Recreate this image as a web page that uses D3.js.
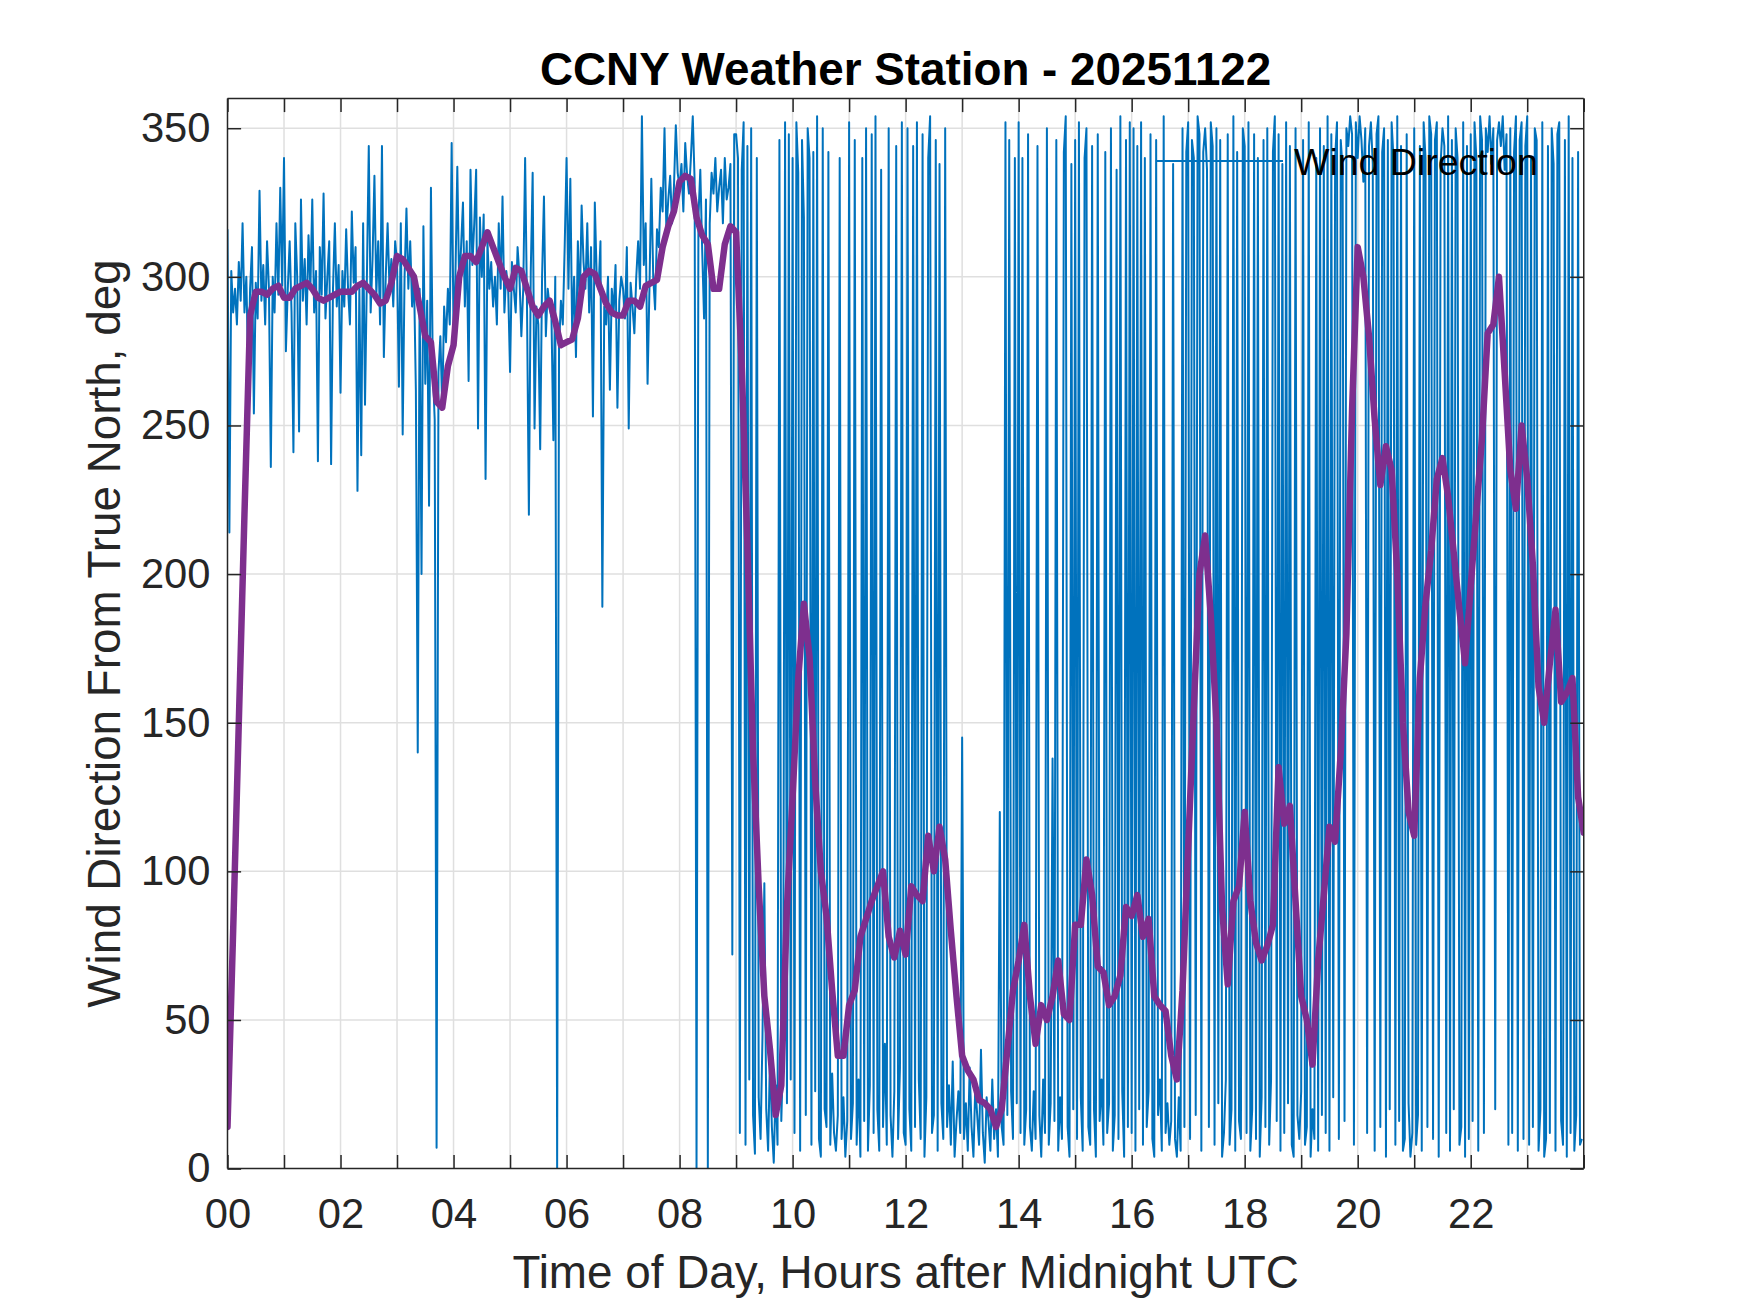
<!DOCTYPE html>
<html>
<head>
<meta charset="utf-8">
<script src="https://cdn.jsdelivr.net/npm/d3@7"></script>
<style>
  body { margin: 0; background: #fff; }
  text { font-family: "Liberation Sans", Arial, Helvetica, sans-serif; }
</style>
</head>
<body>
<script>
// wind direction, one value every 2 minutes, deg from true north
var dir00to04 = [
  316, 214, 302, 288, 296, 284, 305, 292, 318, 288, 300, 267, 296, 310, 254, 298, 286, 329, 292, 304, 284, 312, 296, 236, 300, 288, 318, 294, 330, 297,
  340, 275, 296, 312, 288, 241, 318, 300, 248, 326, 292, 306, 284, 314, 296, 326, 288, 302, 238, 310, 294, 328, 286, 300, 312, 237, 296, 318, 290, 304,
  261, 302, 290, 316, 296, 284, 322, 298, 310, 228, 296, 240, 318, 257, 300, 344, 288, 306, 334, 294, 312, 284, 344, 273, 300, 318, 296, 306, 290, 312,
  305, 263, 318, 247, 300, 323, 296, 312, 290, 300, 262, 140, 296, 200, 317, 264, 292, 223, 330, 268, 252, 7, 268, 280, 256, 290, 278, 296, 284, 345
];
var dir04to08 = [
  281, 300, 337, 296, 310, 325, 290, 312, 265, 336, 304, 318, 336, 249, 320, 300, 321, 232, 312, 296, 305, 290, 300, 284, 318, 296, 327, 288, 302, 296,
  268, 305, 296, 288, 310, 300, 280, 296, 340, 290, 220, 302, 335, 249, 290, 284, 242, 300, 327, 280, 296, 290, 286, 245, 300, 0, 276, 292, 284, 310,
  340, 296, 333, 280, 300, 273, 312, 290, 324, 305, 296, 318, 288, 310, 253, 325, 300, 296, 312, 189, 290, 284, 300, 262, 296, 288, 304, 256, 292, 300,
  296, 286, 310, 249, 298, 290, 281, 300, 312, 296, 354, 304, 318, 264, 296, 333, 300, 289, 316, 310, 330, 322, 350, 315, 326, 334, 318, 330, 351, 335
];
var dir08to12 = [
  330, 338, 322, 345, 334, 328, 340, 354, 332, 0, 320, 336, 309, 286, 326, 0, 318, 335, 328, 340, 322, 330, 336, 318, 340, 326, 330, 338, 72, 348,
  348, 340, 12, 336, 352, 8, 344, 30, 350, 18, 5, 340, 24, 10, 44, 96, 20, 6, 38, 14, 2, 28, 8, 346, 16, 40, 352, 22, 348, 30,
  340, 12, 352, 335, 6, 346, 320, 18, 350, 340, 8, 342, 26, 354, 10, 4, 350, 20, 14, 342, 8, 32, 12, 6, 18, 340, 10, 24, 4, 16,
  352, 10, 22, 346, 8, 30, 4, 340, 16, 350, 6, 28, 348, 12, 354, 20, 6, 336, 14, 42, 8, 350, 18, 4, 26, 344, 10, 34, 352, 12
];
var dir12to16 = [
  8, 350, 20, 6, 344, 14, 352, 30, 10, 348, 4, 24, 340, 354, 12, 18, 346, 6, 338, 22, 10, 350, 14, 28, 8, 36, 4, 16, 26, 12,
  145, 10, 22, 6, 34, 14, 4, 28, 18, 8, 40, 12, 2, 24, 16, 6, 30, 10, 20, 4, 120, 14, 8, 352, 18, 346, 26, 10, 340, 22,
  352, 12, 340, 8, 20, 348, 14, 6, 26, 10, 344, 18, 4, 30, 12, 350, 8, 22, 138, 16, 346, 6, 24, 10, 342, 354, 14, 4, 338, 20,
  346, 10, 352, 24, 6, 340, 350, 14, 8, 344, 20, 4, 348, 16, 30, 8, 342, 12, 22, 350, 6, 18, 336, 10, 354, 26, 4, 346, 14, 352
];
var dir16to20 = [
  12, 350, 6, 344, 20, 352, 8, 340, 14, 26, 348, 10, 4, 346, 18, 30, 6, 354, 12, 22, 8, 16, 338, 10, 4, 24, 6, 350, 14, 342,
  352, 10, 346, 340, 18, 354, 348, 6, 342, 350, 336, 14, 352, 344, 8, 350, 22, 346, 4, 12, 30, 348, 8, 20, 354, 6, 342, 16, 10, 350,
  344, 12, 352, 6, 20, 348, 10, 340, 4, 24, 346, 14, 350, 8, 30, 342, 354, 16, 348, 6, 338, 12, 352, 22, 344, 8, 4, 350, 18, 10,
  26, 346, 8, 14, 352, 4, 20, 10, 340, 6, 350, 18, 344, 12, 354, 6, 348, 24, 340, 352, 10, 346, 336, 16, 350, 344, 354, 348, 8, 352
];
var dir20to24 = [
  340, 354, 346, 332, 350, 12, 344, 352, 338, 6, 348, 354, 14, 342, 350, 4, 346, 20, 352, 340, 8, 354, 16, 344, 6, 10, 348, 22, 4, 12,
  350, 8, 18, 344, 6, 352, 340, 14, 354, 348, 10, 346, 352, 4, 338, 350, 344, 12, 354, 6, 346, 20, 350, 340, 8, 14, 352, 4, 344, 10,
  348, 16, 352, 340, 6, 354, 346, 12, 350, 342, 354, 338, 350, 20, 346, 352, 344, 354, 336, 348, 8, 350, 12, 342, 354, 6, 346, 352, 10, 344,
  354, 8, 340, 14, 350, 346, 6, 20, 352, 4, 10, 344, 12, 350, 338, 6, 348, 352, 16, 8, 346, 4, 354, 12, 340, 6, 18, 342, 8, 10
];

// running mean, one value every 6 minutes (0.0 h .. 24.0 h)
var avgDir00to12 = [
  14, 80, 150, 220, 287, 295, 295, 294, 296, 297,
  293, 293, 296, 297, 298, 296, 293, 292, 293, 294,
  295, 295, 295, 297, 298, 296, 294, 291, 292, 298,
  307, 306, 303, 300, 290, 280, 278, 258, 256, 270,
  277, 300, 307, 307, 305, 310, 315, 310, 305, 300,
  296, 303, 302, 296, 290, 287, 290, 292, 285, 277,
  278, 279, 286, 300, 302, 301, 296, 291, 288, 287,
  287, 292, 292, 290, 297, 298, 299, 310, 317, 322,
  332, 334, 333, 320, 314, 311, 296, 296, 311, 317,
  315, 270, 210, 140, 95, 58, 40, 18, 28, 88,
  125, 165, 190, 172, 130, 100, 85, 60, 38, 38,
  55, 60, 78, 84, 90, 95, 100, 78, 71, 80
];
var avgDir12to24 = [
  72, 95, 92, 90, 112, 100, 115, 104, 80, 58,
  38, 33, 30, 23, 22, 20, 14, 20, 40, 60,
  70, 82, 58, 42, 55, 50, 58, 70, 52, 50,
  82, 82, 104, 92, 68, 66, 55, 58, 65, 88,
  85, 92, 78, 84, 58, 55, 53, 38, 30, 60,
  108, 155, 200, 213, 186, 150, 88, 62, 90, 95,
  120, 90, 76, 70, 75, 82, 135, 116, 122, 90,
  58, 50, 35, 70, 92, 115, 110, 140, 180, 255,
  310, 300, 280, 252, 230, 243, 235, 200, 150, 120,
  112, 165, 190, 208, 232, 239, 226, 207, 188, 170,
  196, 221, 246, 281, 284, 300, 268, 235, 222, 250,
  232, 203, 162, 150, 170, 188, 157, 160, 165, 125,
  113
];

var hourTicks = d3.range(0, 25);
var yTicks = [0, 50, 100, 150, 200, 250, 300, 350];

var titleText = "CCNY Weather Station - 20251122";
var xLabel = "Time of Day, Hours after Midnight UTC";
var yLabel = "Wind Direction From True North, deg";
var legendLabel = "Wind Direction";

var windDir = [].concat(dir00to04, dir04to08, dir08to12, dir12to16, dir16to20, dir20to24)
  .map(function(v, i) { return { t: i * 2 / 60, v: v }; });
var avgDir = [].concat(avgDir00to12, avgDir12to24)
  .map(function(v, i) { return { t: i * 0.1, v: v }; });

var W = 1750, H = 1313;
var axL = 227.5, axR = 1583.75, axT = 98.5, axB = 1168.6;
var tickLen = 13.6;
var axisColor = "#262626";

var svg = d3.select("body").append("svg")
    .attr("width", W)
    .attr("height", H)
    .style("display", "block");

svg.append("rect").attr("width", W).attr("height", H).attr("fill", "#fff");

var x = d3.scaleLinear().domain([0, 24]).range([axL, axR]);
var y = d3.scaleLinear().domain([0, 360]).range([axB, axT]);

// grid
var grid = svg.append("g").attr("class", "grid");
grid.selectAll("line.gx")
    .data(hourTicks.slice(1, -1))
    .enter().append("line").attr("class", "gx")
    .attr("x1", function(d) { return x(d); })
    .attr("x2", function(d) { return x(d); })
    .attr("y1", axT).attr("y2", axB);
grid.selectAll("line.gy")
    .data(yTicks.slice(1))
    .enter().append("line").attr("class", "gy")
    .attr("x1", axL).attr("x2", axR)
    .attr("y1", function(d) { return y(d); })
    .attr("y2", function(d) { return y(d); });
grid.selectAll("line")
    .attr("stroke", "#dfdfdf")
    .attr("stroke-width", 1.5);

// data
svg.append("clipPath").attr("id", "plotClip")
  .append("rect")
    .attr("x", axL).attr("y", axT)
    .attr("width", axR - axL).attr("height", axB - axT);

var line = d3.line()
    .x(function(d) { return x(d.t); })
    .y(function(d) { return y(d.v); });

var plot = svg.append("g").attr("clip-path", "url(#plotClip)");
plot.append("path")
    .datum(windDir)
    .attr("d", line)
    .attr("fill", "none")
    .attr("stroke", "#0072BD")
    .attr("stroke-width", 2)
    .attr("stroke-linejoin", "round");
plot.append("path")
    .datum(avgDir)
    .attr("d", line)
    .attr("fill", "none")
    .attr("stroke", "#7E2F8E")
    .attr("stroke-width", 6.5)
    .attr("stroke-linejoin", "round")
    .attr("stroke-linecap", "round");

// axes, ticks pointing inward
var fmtHour = function(d) { return d % 2 === 0 && d < 24 ? d3.format("02d")(d) : ""; };

var xAxis = svg.append("g")
    .attr("transform", "translate(0," + axB + ")")
    .call(d3.axisBottom(x).tickValues(hourTicks).tickFormat(fmtHour)
      .tickSizeInner(-tickLen).tickSizeOuter(0).tickPadding(30));
var xAxisTop = svg.append("g")
    .attr("transform", "translate(0," + axT + ")")
    .call(d3.axisTop(x).tickValues(hourTicks).tickFormat("")
      .tickSizeInner(-tickLen).tickSizeOuter(0));
var yAxis = svg.append("g")
    .attr("transform", "translate(" + axL + ",0)")
    .call(d3.axisLeft(y).tickValues(yTicks)
      .tickSizeInner(-tickLen).tickSizeOuter(0).tickPadding(17));
var yAxisRight = svg.append("g")
    .attr("transform", "translate(" + axR + ",0)")
    .call(d3.axisRight(y).tickValues(yTicks).tickFormat("")
      .tickSizeInner(-tickLen).tickSizeOuter(0));

[xAxis, xAxisTop, yAxis, yAxisRight].forEach(function(g) {
  g.selectAll("path.domain").attr("stroke", axisColor).attr("stroke-width", 1.5);
  g.selectAll(".tick line").attr("stroke", axisColor).attr("stroke-width", 1.5);
  g.selectAll(".tick text")
    .attr("fill", axisColor)
    .style("font-size", "41.7px")
    .style("font-family", "'Liberation Sans', Arial, sans-serif");
});
xAxisTop.select("path.domain").attr("d", "M" + axL + ",0H" + axR);
yAxisRight.select("path.domain").attr("d", "M0," + axT + "V" + axB);
xAxis.select("path.domain").attr("d", "M" + axL + ",0H" + axR);
yAxis.select("path.domain").attr("d", "M0," + axT + "V" + axB);

// labels
svg.append("text")
    .attr("x", (axL + axR) / 2)
    .attr("y", 85)
    .attr("text-anchor", "middle")
    .attr("font-weight", "bold")
    .attr("font-size", 45.8)
    .attr("fill", "#000")
    .text(titleText);

svg.append("text")
    .attr("x", (axL + axR) / 2)
    .attr("y", 1288)
    .attr("text-anchor", "middle")
    .attr("font-size", 45.8)
    .attr("fill", axisColor)
    .text(xLabel);

svg.append("text")
    .attr("transform", "translate(120," + (axT + axB) / 2 + ") rotate(-90)")
    .attr("text-anchor", "middle")
    .attr("font-size", 45.8)
    .attr("fill", axisColor)
    .text(yLabel);

// legend (no box)
var legend = svg.append("g");
legend.append("line")
    .attr("x1", 1157).attr("x2", 1283)
    .attr("y1", 161).attr("y2", 161)
    .attr("stroke", "#0072BD")
    .attr("stroke-width", 2);
legend.append("text")
    .attr("x", 1294)
    .attr("y", 175)
    .attr("font-size", 37.5)
    .attr("fill", "#000")
    .text(legendLabel);
</script>
</body>
</html>
